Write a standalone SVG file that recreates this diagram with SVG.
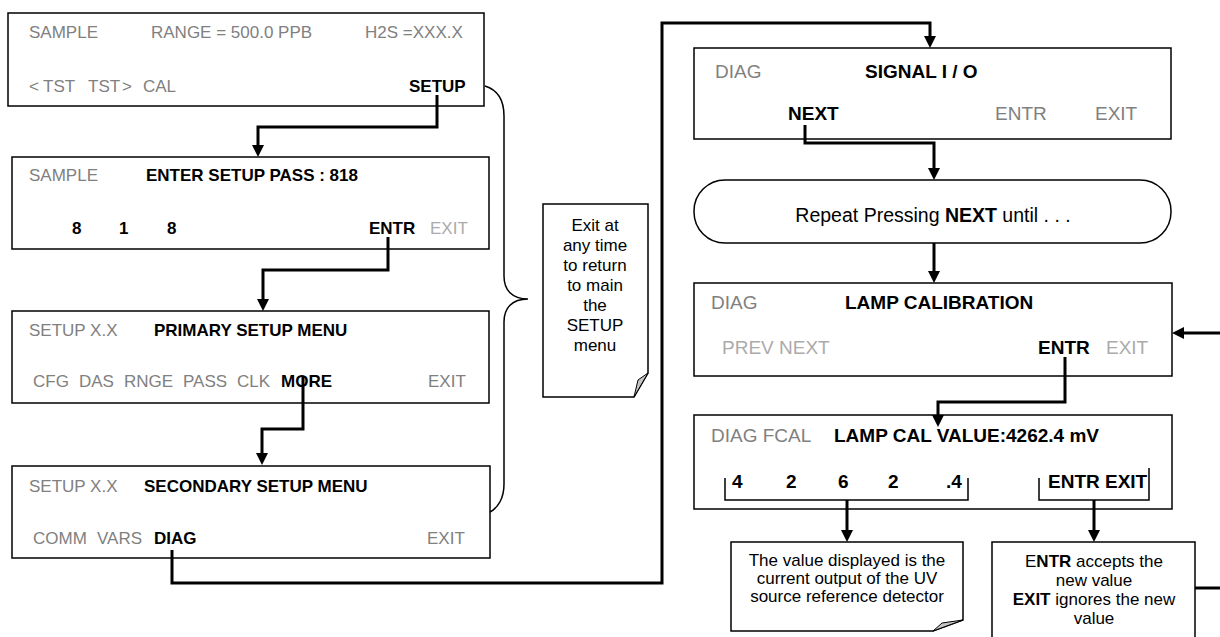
<svg xmlns="http://www.w3.org/2000/svg" width="1220" height="637" viewBox="0 0 1220 637">
<style>
.box{fill:#fff;stroke:#000;stroke-width:1.5}
.t{font-family:"Liberation Sans",Arial,sans-serif;font-size:17px;fill:#000}
.r{font-size:19px}
.g{fill:#808080}
.l{fill:#ababab}
.b{font-weight:bold}
.conn{fill:none;stroke:#000;stroke-width:3}
.thin{fill:none;stroke:#000;stroke-width:1.5}
.fold{fill:#c4c4c4;stroke:#000;stroke-width:1}
.n{font-family:"Liberation Sans",Arial,sans-serif;font-size:17px;fill:#000;text-anchor:middle}
</style>
<defs>
<marker id="ah" markerUnits="userSpaceOnUse" markerWidth="13" markerHeight="12" refX="2" refY="6" orient="auto">
<path d="M0,0 L12,6 L0,12 Z" fill="#000"/>
</marker>
</defs>

<g id="box1">
<rect class="box" x="8" y="13" width="476" height="93"/>
<text class="t g" x="29" y="38">SAMPLE</text>
<text class="t g" x="151" y="38">RANGE = 500.0 PPB</text>
<text class="t g" x="365" y="38">H2S =XXX.X</text>
<text class="t g" x="29" y="92">&lt;</text>
<text class="t g" x="43" y="92">TST</text>
<text class="t g" x="88" y="92">TST</text>
<text class="t g" x="122" y="92">&gt;</text>
<text class="t g" x="143" y="92">CAL</text>
<text class="t b" x="409" y="92">SETUP</text>
</g>

<g id="box2">
<rect class="box" x="12" y="157" width="477" height="92"/>
<text class="t g" x="29" y="181">SAMPLE</text>
<text class="t b" x="146" y="181">ENTER SETUP PASS : 818</text>
<text class="t b" x="72" y="234">8</text>
<text class="t b" x="119" y="234">1</text>
<text class="t b" x="167" y="234">8</text>
<text class="t b" x="369" y="234">ENTR</text>
<text class="t l" x="430" y="234">EXIT</text>
</g>

<g id="box3">
<rect class="box" x="12" y="311" width="477" height="92"/>
<text class="t g" x="29" y="336">SETUP X.X</text>
<text class="t b" x="154" y="336">PRIMARY SETUP MENU</text>
<text class="t g" x="33" y="387">CFG</text>
<text class="t g" x="79" y="387">DAS</text>
<text class="t g" x="124" y="387">RNGE</text>
<text class="t g" x="183" y="387">PASS</text>
<text class="t g" x="237" y="387">CLK</text>
<text class="t b" x="281" y="387">MORE</text>
<text class="t g" x="428" y="387">EXIT</text>
</g>

<g id="box4">
<rect class="box" x="12" y="466" width="478" height="92"/>
<text class="t g" x="29" y="492">SETUP X.X</text>
<text class="t b" x="144" y="492">SECONDARY SETUP MENU</text>
<text class="t g" x="33" y="544">COMM</text>
<text class="t g" x="97" y="544">VARS</text>
<text class="t b" x="154" y="544">DIAG</text>
<text class="t g" x="427" y="544">EXIT</text>
</g>

<g id="brace">
<path class="thin" d="M485 86 C498 90,504 100,504 116 L504 276 C504 290,512 299,528 299 C512 299,504 308,504 322 L504 484 C504 498,498 508,490 512"/>
</g>

<g id="note1">
<path class="box" d="M543 204 H648 V373 L634 397 H543 Z"/>
<path class="fold" d="M648 373 L634 397 L638 380 Z"/>
<text class="n" x="595" y="231">Exit at</text>
<text class="n" x="595" y="251">any time</text>
<text class="n" x="595" y="271">to return</text>
<text class="n" x="595" y="291">to main</text>
<text class="n" x="595" y="311">the</text>
<text class="n" x="595" y="331">SETUP</text>
<text class="n" x="595" y="351">menu</text>
</g>

<g id="box5">
<rect class="box" x="694" y="48" width="477" height="91"/>
<text class="t r g" x="715" y="78">DIAG</text>
<text class="t r b" x="865" y="78">SIGNAL I / O</text>
<text class="t r b" x="788" y="120">NEXT</text>
<text class="t r g" x="995" y="120">ENTR</text>
<text class="t r g" x="1095" y="120">EXIT</text>
</g>

<g id="repeat">
<rect class="box" x="694" y="180" width="477" height="63" rx="31" ry="31"/>
<text class="n" style="font-size:19.5px" x="933" y="222">Repeat Pressing <tspan font-weight="bold">NEXT</tspan> until . . .</text>
</g>

<g id="box6">
<rect class="box" x="694" y="283" width="478" height="93"/>
<text class="t r g" x="711" y="309">DIAG</text>
<text class="t r b" x="845" y="309">LAMP CALIBRATION</text>
<text class="t r l" x="722" y="354">PREV NEXT</text>
<text class="t r b" x="1038" y="354">ENTR</text>
<text class="t r l" x="1106" y="354">EXIT</text>
</g>

<g id="box7">
<rect class="box" x="694" y="415" width="478" height="94"/>
<text class="t r g" x="711" y="442">DIAG FCAL</text>
<text class="t r b" x="834" y="442">LAMP CAL VALUE:4262.4 mV</text>
<text class="t r b" x="732" y="488">4</text>
<text class="t r b" x="786" y="488">2</text>
<text class="t r b" x="838" y="488">6</text>
<text class="t r b" x="888" y="488">2</text>
<text class="t r b" x="946" y="488">.4</text>
<text class="t r b" x="1048" y="488">ENTR EXIT</text>
<path class="thin" d="M725 478 V500 H968 V478"/>
<path class="thin" d="M1039 478 V500 H1149 V468"/>
</g>

<g id="note2">
<path class="box" d="M731 542 H963 V620 L933 631 H731 Z"/>
<path class="fold" d="M963 620 L933 631 L942 623 Z"/>
<text class="n" x="847" y="566">The value displayed is the</text>
<text class="n" x="847" y="584">current output of the UV</text>
<text class="n" x="847" y="602">source reference detector</text>
</g>

<g id="note3">
<rect class="box" x="992" y="542" width="203" height="110"/>
<text class="n" x="1094" y="567">E<tspan font-weight="bold">NTR</tspan> accepts the</text>
<text class="n" x="1094" y="586">new value</text>
<text class="n" x="1094" y="605"><tspan font-weight="bold">EXIT</tspan> ignores the new</text>
<text class="n" x="1094" y="624">value</text>
</g>

<g id="connectors">
<path class="conn" d="M437 95 V127 H258 V147" marker-end="url(#ah)"/>
<path class="conn" d="M388 237 V270 H263 V301" marker-end="url(#ah)"/>
<path class="conn" d="M303 377 V429 H262 V455" marker-end="url(#ah)"/>
<path class="conn" d="M172 550 V583 H662 V23 H930 V38" marker-end="url(#ah)"/>
<path class="conn" d="M805 125 V143 H934 V170" marker-end="url(#ah)"/>
<path class="conn" d="M934 243 V273" marker-end="url(#ah)"/>
<path class="conn" d="M1065 357 V402 H938 V417" marker-end="url(#ah)"/>
<path class="conn" d="M847 500 V532" marker-end="url(#ah)"/>
<path class="conn" d="M1094 500 V532" marker-end="url(#ah)"/>
<path class="conn" d="M1222 333 H1182" marker-end="url(#ah)"/>
<path class="conn" d="M1195 588 H1222"/>
</g>
</svg>
